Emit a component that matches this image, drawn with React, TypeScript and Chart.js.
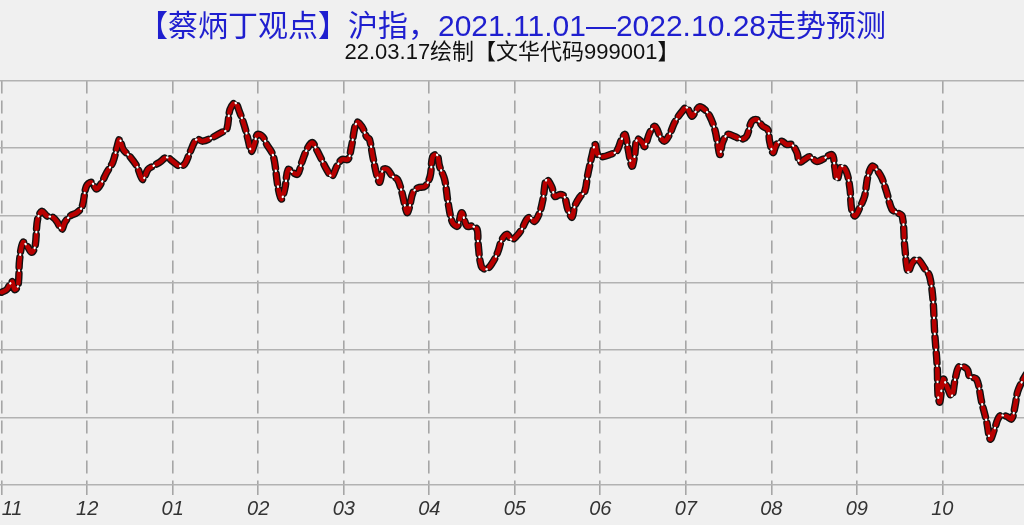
import React, { useEffect, useRef } from "react";
import { Chart, registerables } from "chart.js";

Chart.register(...registerables);

const titleText = "【蔡炳丁观点】沪指，2021.11.01—2022.10.28走势预测";
const subtitleText = "22.03.17绘制【文华代码999001】";

const monthLabels = ["11", "12", "01", "02", "03", "04", "05", "06", "07", "08", "09", "10", ""];

// x: months since 2021-11-01 ; y: index level
const monthPos = [0.00,0.06,0.12,0.15,0.19,0.21,0.25,0.30,0.35,0.39,0.42,0.47,0.53,0.60,0.65,0.70,0.74,0.80,0.88,0.94,0.99,1.05,1.11,1.17,1.23,1.30,1.35,1.38,1.42,1.50,1.58,1.65,1.71,1.77,1.85,1.93,2.00,2.08,2.14,2.20,2.28,2.35,2.47,2.57,2.63,2.67,2.73,2.78,2.84,2.88,2.92,2.96,2.99,3.05,3.10,3.16,3.19,3.23,3.27,3.31,3.35,3.40,3.46,3.51,3.57,3.63,3.68,3.74,3.80,3.86,3.92,3.98,4.05,4.09,4.15,4.21,4.27,4.30,4.34,4.39,4.42,4.46,4.51,4.57,4.63,4.68,4.74,4.77,4.81,4.87,4.95,5.01,5.04,5.09,5.12,5.18,5.22,5.27,5.33,5.38,5.44,5.50,5.56,5.57,5.61,5.67,5.74,5.80,5.85,5.91,5.96,6.02,6.08,6.14,6.18,6.23,6.29,6.33,6.37,6.43,6.47,6.53,6.58,6.62,6.67,6.70,6.76,6.82,6.85,6.90,6.94,6.97,7.03,7.11,7.19,7.25,7.29,7.32,7.37,7.40,7.43,7.49,7.52,7.58,7.64,7.70,7.75,7.81,7.87,7.95,8.01,8.07,8.11,8.16,8.22,8.28,8.34,8.37,8.40,8.43,8.49,8.57,8.65,8.71,8.77,8.83,8.90,8.96,8.98,9.02,9.06,9.12,9.18,9.24,9.30,9.33,9.39,9.45,9.53,9.60,9.71,9.74,9.77,9.82,9.88,9.92,9.94,9.98,10.04,10.09,10.13,10.18,10.23,10.29,10.35,10.41,10.47,10.53,10.56,10.60,10.65,10.71,10.80,10.85,10.89,10.91,10.94,10.95,10.97,11.01,11.05,11.11,11.15,11.20,11.29,11.32,11.40,11.46,11.52,11.56,11.61,11.67,11.75,11.81,11.85,11.88,11.93,11.98];

const indexValues = [3486,3490,3502,3490,3495,3535,3560,3554,3545,3554,3594,3606,3599,3597,3590,3579,3590,3599,3604,3613,3643,3649,3639,3649,3664,3679,3702,3713,3698,3687,3673,3653,3668,3673,3679,3686,3680,3673,3676,3693,3713,3710,3716,3723,3727,3757,3767,3754,3732,3713,3695,3708,3720,3717,3705,3693,3680,3643,3624,3639,3668,3664,3661,3679,3698,3708,3698,3683,3668,3658,3673,3683,3683,3702,3738,3732,3716,3713,3687,3658,3649,3668,3668,3658,3653,3634,3604,3613,3634,3641,3643,3658,3687,3690,3673,3653,3619,3590,3584,3604,3584,3584,3579,3560,3524,3520,3530,3545,3564,3572,3564,3569,3579,3594,3597,3591,3604,3624,3653,3643,3628,3631,3628,3609,3597,3613,3627,3636,3658,3687,3705,3690,3687,3690,3695,3713,3720,3702,3673,3687,3713,3708,3702,3723,3732,3717,3710,3720,3738,3753,3760,3747,3753,3761,3757,3747,3727,3708,3690,3708,3720,3717,3713,3717,3739,3742,3732,3727,3710,3693,3705,3710,3705,3705,3693,3679,3683,3687,3680,3683,3690,3673,3653,3673,3664,3639,3609,3599,3613,3628,3658,3673,3668,3656,3634,3609,3604,3599,3554,3516,3530,3535,3520,3510,3476,3427,3376,3332,3323,3357,3347,3332,3357,3376,3372,3361,3357,3323,3293,3268,3283,3302,3302,3298,3317,3338,3353,3364];

const yMin = 3200;
const yMax = 3800;
const yStep = 100;

const BG = "#f0f0f0";

export default function App() {
  const ref = useRef<HTMLCanvasElement | null>(null);

  useEffect(() => {
    document.body.style.margin = "0";
    document.body.style.background = BG;
    const canvas = ref.current;
    if (!canvas) return;
    const points = monthPos.map((x, i) => ({ x, y: indexValues[i] }));
    const common = {
      data: points,
      pointRadius: 0,
      tension: 0.35,
      fill: false,
    };
    const bgPlugin = {
      id: "bg",
      beforeDraw(chart: any) {
        const ctx = chart.ctx;
        ctx.save();
        ctx.fillStyle = BG;
        ctx.fillRect(0, 0, chart.width, chart.height);
        ctx.restore();
      },
    };
    const chart = new Chart(canvas, {
      type: "line",
      data: {
        datasets: [
          {
            ...common,
            label: "dots",
            borderColor: "#ffffff",
            borderWidth: 2.2,
            borderDash: [0.5, 15.5],
            borderDashOffset: 3.5,
            borderCapStyle: "round",
          },
          {
            ...common,
            label: "red",
            borderColor: "#b80000",
            borderWidth: 4.6,
            borderDash: [10, 6],
            borderCapStyle: "round",
            borderJoinStyle: "round",
          },
          {
            ...common,
            label: "outline",
            borderColor: "#111111",
            borderWidth: 7.4,
            borderDash: [10, 6],
            borderCapStyle: "round",
            borderJoinStyle: "round",
          },
        ],
      } as any,
      plugins: [bgPlugin],
      options: {
        animation: false,
        responsive: false,
        events: [],
        layout: { padding: { top: 0, bottom: 2, left: 0, right: 0 } },
        plugins: {
          legend: { display: false },
          tooltip: { enabled: false },
          title: {
            display: true,
            text: titleText,
            color: "#1f1fcf",
            font: { family: '"Liberation Sans", "Noto Sans CJK SC", sans-serif', size: 30, weight: "normal", lineHeight: 0.95 },
            padding: { top: 13, bottom: 0 },
          },
          subtitle: {
            display: true,
            text: subtitleText,
            color: "#111111",
            font: { family: '"Liberation Sans", "Noto Sans CJK SC", sans-serif', size: 22, weight: "normal", lineHeight: 1 },
            padding: { top: 0, bottom: 17 },
          },
        } as any,
        scales: {
          x: {
            type: "linear",
            min: -0.02,
            max: 11.955,
            afterBuildTicks: (s: any) => {
              s.ticks.push({ value: 12 });
            },
            afterFit: (s: any) => {
              s.paddingLeft = 0;
              s.paddingRight = 0;
            },
            ticks: {
              stepSize: 1,
              autoSkip: false,
              includeBounds: false,
              maxRotation: 0,
              align: "inner",
              padding: 2,
              color: "#333333",
              font: { family: '"Liberation Sans", Arial, sans-serif', size: 20, style: "italic" },
              callback: (v: any) => monthLabels[Math.round(Number(v))] ?? "",
            },
            grid: {
              color: "#a6a6a6",
              lineWidth: 1.6,
              tickLength: 10,
              drawTicks: true,
              borderDash: [13, 7],
              tickBorderDash: [],
            } as any,
            border: { display: false, dash: [13, 7] } as any,
          },
          y: {
            min: yMin,
            max: yMax,
            ticks: { stepSize: yStep, display: false },
            grid: { color: "#b2b2b2", lineWidth: 1.5, drawTicks: false },
            border: { display: false },
            afterFit: (s: any) => {
              s.width = 0;
            },
          },
        },
      } as any,
    });
    return () => chart.destroy();
  }, []);

  return (
    <div style={{ width: 1024, height: 525, background: BG }}>
      <canvas ref={ref} width={1024} height={525} style={{ display: "block" }} />
    </div>
  );
}
